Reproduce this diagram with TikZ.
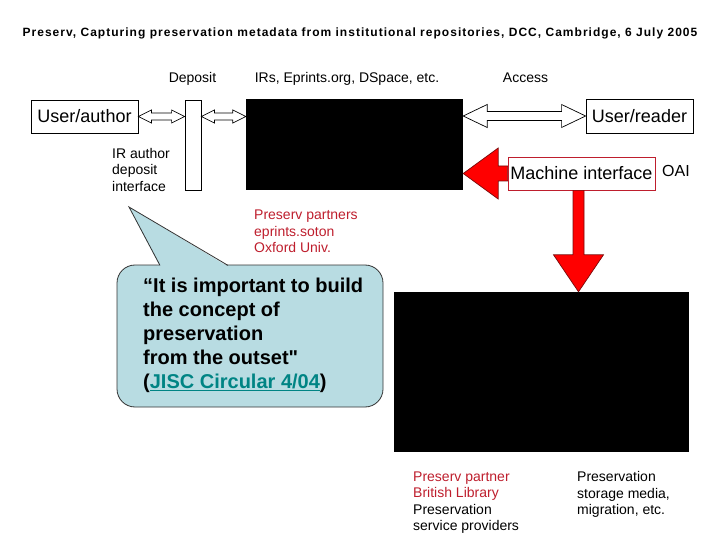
\documentclass[tikz,border=0pt]{standalone}
\usepackage{fontspec}
\setmainfont{Liberation Sans}[Ligatures=TeXOff]
\usetikzlibrary{calc}
\definecolor{pred}{RGB}{190,30,45}
\definecolor{calfill}{RGB}{184,220,226}
\definecolor{linkc}{RGB}{0,132,132}
\definecolor{arrred}{RGB}{255,0,0}
\definecolor{arredge}{RGB}{120,10,10}
\tikzset{
  smalltxt/.style={font=\fontsize{14}{16.5}\selectfont, inner sep=0pt, align=left},
  toplabel/.style={font=\fontsize{14}{16.5}\selectfont, inner sep=0pt, anchor=base},
  whitebox/.style={draw=black, line width=0.8pt, fill=white, inner sep=0pt, font=\fontsize{18}{20}\selectfont},
  blackbox/.style={fill=black, inner sep=0pt},
  dblarr/.style={draw=black, line width=0.7pt, fill=white},
  redarr/.style={draw=arredge, line width=0.7pt, fill=arrred},
}
\newcommand{\hdarrow}[5]{%
  \draw[dblarr] let \p1=(#1), \p2=(#2) in
    (\x1,\y1) -- (\x1+#5,\y1+#4) -- (\x1+#5,\y1+#3) -- (\x2-#5,\y1+#3) --
    (\x2-#5,\y1+#4) -- (\x2,\y1) -- (\x2-#5,\y1-#4) -- (\x2-#5,\y1-#3) --
    (\x1+#5,\y1-#3) -- (\x1+#5,\y1-#4) -- cycle;}
\begin{document}
\begin{tikzpicture}[x=1pt,y=-1pt]
\useasboundingbox (0,0) rectangle (720,540);

% title
\node[font=\bfseries\fontsize{12}{14}\selectfont\addfontfeature{LetterSpace=8.5}, anchor=base, inner sep=0pt] (title) at (360,36.5)
  {Preserv, Capturing preservation metadata from institutional repositories, DCC, Cambridge, 6 July 2005};

% top labels
\node[toplabel] (ldep) at (192.5,83) {Deposit};
\node[toplabel] (lirs) at (347,83) {IRs, Eprints.org, DSpace, etc.};
\node[toplabel] (lacc) at (525.5,83) {Access};

% boxes
\node[whitebox, minimum width=107pt, minimum height=33pt] (ua) at (84.5,116.5) {User/author};
\node[whitebox, minimum width=16pt, minimum height=90pt] (dep) at (193,145) {};
\node[blackbox, minimum width=217pt, minimum height=91pt] (ir) at (354.5,144.5) {};
\node[whitebox, minimum width=107pt, minimum height=34pt] (ur) at (639.5,116) {User/reader};
\node[whitebox, draw=pred, minimum width=147pt, minimum height=33pt] (mi) at (581.5,173.5) {Machine interface};
\node[blackbox, minimum width=295pt, minimum height=160pt] (bk) at (541.5,372) {};

\node[font=\fontsize{16}{18}\selectfont, anchor=base west, inner sep=0pt] (oai) at (662,177) {OAI};

% double arrows
\hdarrow{ua.east}{dep.west |- ua.east}{3.5pt}{6.5pt}{13pt}
\hdarrow{dep.east |- ua.east}{ir.west |- ua.east}{3.5pt}{6.5pt}{13pt}
\hdarrow{ir.east |- ur.west}{ur.west}{4.5pt}{11.5pt}{24pt}

% red arrows
\draw[redarr] let \p1=(mi.west), \p2=(ir.east |- mi.west) in
  (\x2,\y1) -- (\x2+35pt,\y1+25.5pt) -- (\x2+35pt,\y1+7.5pt) -- (\x1,\y1+7.5pt) --
  (\x1,\y1-7.5pt) -- (\x2+35pt,\y1-7.5pt) -- (\x2+35pt,\y1-25.5pt) -- cycle;
\draw[redarr] let \p1=($(mi.south)+(-3,0)$), \p2=(bk.north) in
  (\x1-5.5pt,\y1) -- (\x1-5.5pt,\y2+37pt) -- (\x1-25pt,\y2+37pt) -- (\x1,\y2) --
  (\x1+25pt,\y2+37pt) -- (\x1+5.5pt,\y2+37pt) -- (\x1+5.5pt,\y1) -- cycle;

% side texts
\node[smalltxt, anchor=north west] (irad) at (112,148) {IR author\\deposit\\interface};
\node[smalltxt, anchor=north west, text=pred] (pp) at (254,210) {Preserv partners\\eprints.soton\\Oxford Univ.};
\node[smalltxt, anchor=north west] (bl) at (413,471.5) {\textcolor{pred}{Preserv partner}\\\textcolor{pred}{British Library}\\Preservation\\service providers};
\node[smalltxt, anchor=north west] (psm) at (577,471.5) {Preservation\\storage media,\\migration, etc.};

% callout
\node[draw=black!80, line width=0.8pt, fill=calfill, rounded corners=18pt,
      minimum width=266pt, minimum height=142pt, inner sep=0pt] (cq) at (250,336) {};
\coordinate (tip) at (129,207);
\fill[calfill] (160,266.5) -- (tip) -- (228,266.5) -- cycle;
\draw[black!80, line width=0.8pt] (160,265.4) -- (tip) -- (228,265.4);
\node[anchor=north west, inner sep=0pt, align=left,
      font=\bfseries\fontsize{20}{24}\selectfont] (cqt) at (143,277.5)
  {“It is important to build\\the concept of\\preservation\\from the outset"\\(\textcolor{linkc}{\underline{JISC Circular 4/04}})};
\end{tikzpicture}
\end{document}
